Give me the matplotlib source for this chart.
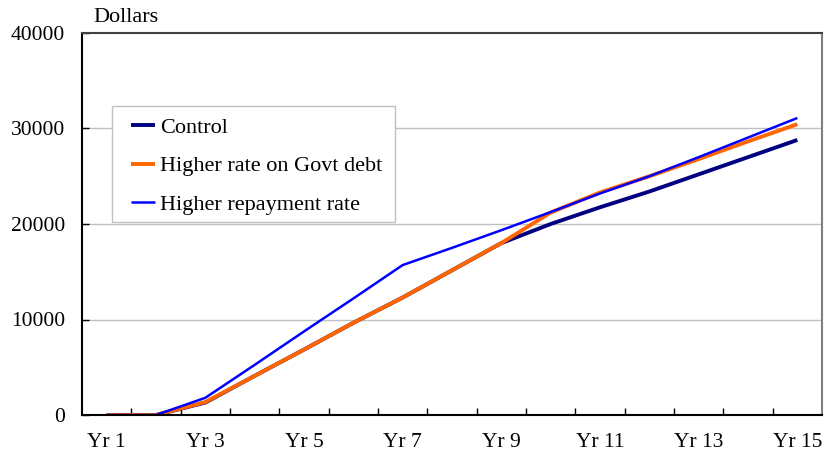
import matplotlib
matplotlib.use("Agg")
import matplotlib.pyplot as plt
from matplotlib.patches import Rectangle

years = list(range(1, 16))
tick_labels = ["Yr %d" % y for y in years]

control = [0, 0, 1300, 4100, 6850, 9650, 12300, 15150, 18000, 20000,
           21750, 23400, 25200, 27000, 28800]
higher_rate = [0, 0, 1350, 4100, 6850, 9650, 12300, 15150, 18000, 21200,
               23300, 25000, 26800, 28650, 30450]
higher_repay = [0, 0, 1800, 5250, 8750, 12200, 15700, 17500, 19350, 21250,
                23200, 25000, 27000, 29050, 31100]

plt.rcParams['font.family'] = ['Liberation Serif', 'DejaVu Serif']

fig = plt.figure(figsize=(8.25, 4.58), dpi=100)
ax = fig.add_axes([82/825, 1-415/458, (822-82)/825, (415-33)/458])

ax.plot(years, control, color='#000080', lw=2.8, label='Control', solid_capstyle='butt')
ax.plot(years, higher_rate, color='#FF6600', lw=2.8, label='Higher rate on Govt debt', solid_capstyle='butt')
ax.plot(years, higher_repay, color='#0000FF', lw=1.8, label='Higher repayment rate', solid_capstyle='butt')

ax.set_xlim(0.5, 15.5)
ax.set_ylim(0, 40000)
ax.set_yticks([0, 10000, 20000, 30000, 40000])
ax.tick_params(axis='y', direction='in', length=5, width=1, pad=12, labelsize=15.5)
for yv in [10000, 20000, 30000]:
    ax.axhline(yv, color='#c0c0c0', lw=1, zorder=0)

# category boundaries carry the tick marks, odd years carry the labels
ax.set_xticks([y + 0.5 for y in years[:-1]])
ax.set_xticklabels([])
ax.tick_params(axis='x', which='major', direction='in', length=5, width=1)
ax.set_xticks(years[::2], minor=True)
ax.set_xticklabels(tick_labels[::2], minor=True)
ax.tick_params(axis='x', which='minor', length=0, pad=13, labelsize=15.5)

ax.spines['left'].set_color('black')
ax.spines['bottom'].set_color('black')
ax.spines['top'].set_color('#404040')
ax.spines['right'].set_color('#808080')
for s in ax.spines.values():
    s.set_linewidth(1.5)

fig.text(93/825, 1-18/458, "Dollars", fontsize=16, va='center', ha='left')

# legend box drawn separately so the padding matches the original
box = Rectangle((112/825, 1-222/458), (395-112)/825, (222-106)/458,
                transform=fig.transFigure, facecolor='white',
                edgecolor='#c0c0c0', lw=1, zorder=4)
ax.add_artist(box)
box.set_clip_on(False)

leg = ax.legend(loc='upper left', bbox_to_anchor=(131/825, 1-117/458),
                bbox_transform=fig.transFigure, borderaxespad=0,
                fontsize=16, frameon=False,
                handlelength=1.1, handletextpad=0.2, labelspacing=0.82,
                borderpad=0)
leg.set_zorder(5)

fig.savefig("out.png", dpi=100)
